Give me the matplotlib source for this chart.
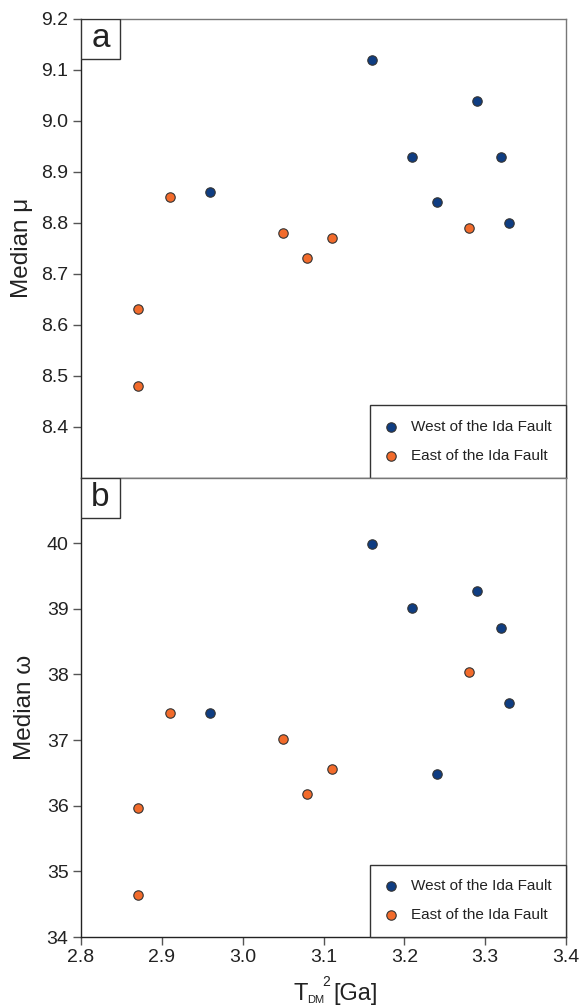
import matplotlib
matplotlib.use("Agg")
import matplotlib.pyplot as plt
from matplotlib.patches import Rectangle
import numpy as np

plt.rcParams['font.family'] = ['Liberation Sans', 'DejaVu Sans']

# Data
west_t = [3.16, 2.96, 3.21, 3.24, 3.29, 3.32, 3.33]
west_mu = [9.12, 8.86, 8.93, 8.84, 9.04, 8.93, 8.80]
west_omega = [39.98, 37.42, 39.01, 36.49, 39.27, 38.71, 37.56]

east_t = [2.91, 2.87, 2.87, 3.05, 3.08, 3.11, 3.28]
east_mu = [8.85, 8.63, 8.48, 8.78, 8.73, 8.77, 8.79]
east_omega = [37.42, 35.96, 34.64, 37.01, 36.18, 36.56, 38.04]

xticks = [2.8, 2.9, 3.0, 3.1, 3.2, 3.3, 3.4]
mu_ticks = [8.4, 8.5, 8.6, 8.7, 8.8, 8.9, 9.0, 9.1, 9.2]
omega_ticks = [34, 35, 36, 37, 38, 39, 40]

blue = '#0f3d82'
orange = '#f26b2b'
edge = '#333333'
txt = '#222222'

W, H = 581, 1008
fig = plt.figure(figsize=(W/100, H/100), dpi=100)
L, R = 81/W, 566/W
ax1 = fig.add_axes([L, 1-477.5/H, R-L, (477.5-19)/H])
ax2 = fig.add_axes([L, 1-937/H, R-L, (937-477.5)/H])

def style(ax, label):
    for s in ['left', 'bottom']:
        ax.spines[s].set_color('#222222')
        ax.spines[s].set_linewidth(1.0)
    for s in ['top', 'right']:
        ax.spines[s].set_color('#777777')
        ax.spines[s].set_linewidth(1.0)
    ax.tick_params(axis='both', direction='out', length=6, width=1.0,
                   color='#555555', labelsize=14, labelcolor=txt, pad=3)
    ax.add_patch(Rectangle((0, 1-40/458.5), 39/485, 40/458.5, transform=ax.transAxes,
                           facecolor='white', edgecolor='#333333', lw=1.0, zorder=5))
    ax.text(19.5/485, 1-20/458.5, label, transform=ax.transAxes, ha='center', va='center',
            fontsize=24, color=txt, zorder=6)

for ax, wy, ey in [(ax1, west_mu, east_mu), (ax2, west_omega, east_omega)]:
    ax.scatter(west_t, wy, s=46, c=blue, edgecolors=edge, linewidths=0.8, zorder=3,
               label='West of the Ida Fault')
    ax.scatter(east_t, ey, s=46, c=orange, edgecolors=edge, linewidths=0.8, zorder=3,
               label='East of the Ida Fault')
    ax.set_xlim(2.8, 3.4)
    ax.set_xticks(xticks)
    leg = ax.legend(loc='lower right', borderaxespad=0, fancybox=False, framealpha=1,
                    edgecolor='#333333', fontsize=11, handletextpad=0.9,
                    labelspacing=1.0, borderpad=0.95, handlelength=0.8,
                    scatterpoints=1)
    leg.get_frame().set_linewidth(1.0)
    for t in leg.get_texts():
        t.set_color(txt)

ax1.set_ylim(8.3, 9.2)
ax1.set_yticks(mu_ticks)
ax1.set_yticklabels([f'{v:.1f}' for v in mu_ticks])
ax1.tick_params(axis='x', bottom=False, labelbottom=False)
ax1.set_ylabel('Median μ', fontsize=17.5, color=txt, labelpad=6)

ax2.set_ylim(34, 41)
ax2.set_yticks(omega_ticks)
ax2.set_xticklabels([f'{v:.1f}' for v in xticks])
ax2.set_ylabel('Median ω', fontsize=17.5, color=txt, labelpad=8)

style(ax1, 'a')
style(ax2, 'b')

# x-axis label composed of pieces: T, subscript DM, superscript 2, [Ga]
def ftext(px, py, s, size):
    fig.text(px/W, 1-py/H, s, fontsize=size, color=txt, ha='left', va='baseline')

ftext(294, 1000, 'T', 17)
ftext(307, 1003, 'DM', 8)
ftext(322, 986, '2', 10)
ftext(333, 1000, '[Ga]', 17)

fig.savefig('out.png', dpi=100)
